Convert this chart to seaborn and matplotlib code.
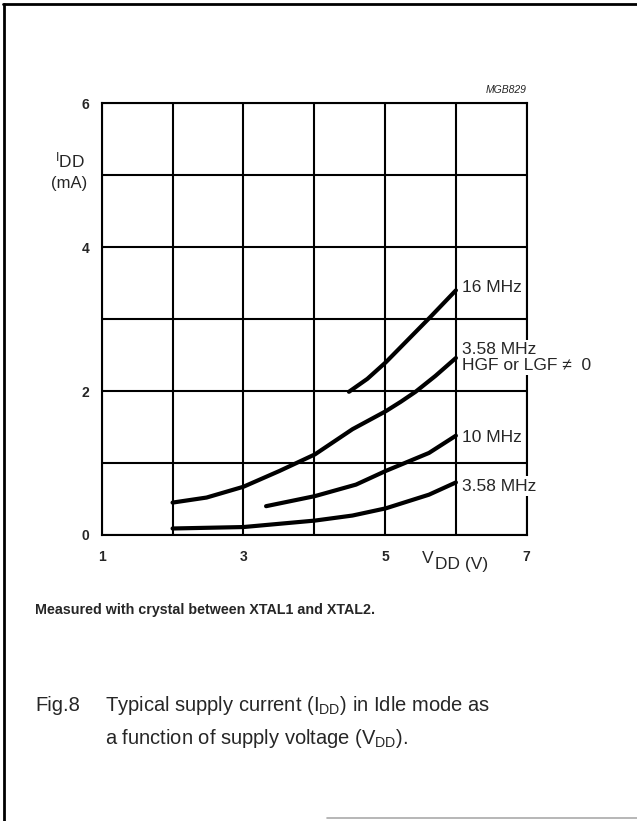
import matplotlib
matplotlib.use("Agg")
import matplotlib.pyplot as plt
import seaborn as sns
import pandas as pd
from matplotlib.lines import Line2D

# curves (V_DD in V, I_DD in mA)
v_16 = [4.49, 4.75, 5.01, 5.3, 5.64, 6.0]
i_16 = [1.99, 2.17, 2.40, 2.69, 3.03, 3.40]

v_358hgf = [2.0, 2.48, 3.0, 3.51, 4.01, 4.54, 5.01, 5.22, 5.43, 5.71, 6.0]
i_358hgf = [0.45, 0.52, 0.67, 0.89, 1.12, 1.47, 1.72, 1.85, 1.99, 2.21, 2.46]

v_10 = [3.32, 4.01, 4.59, 5.01, 5.62, 6.0]
i_10 = [0.40, 0.54, 0.70, 0.89, 1.14, 1.38]

v_358 = [2.0, 3.0, 4.01, 4.54, 5.01, 5.62, 6.0]
i_358 = [0.09, 0.11, 0.20, 0.27, 0.37, 0.56, 0.73]

curve_names = ["16 MHz", "3.58 MHz HGF", "10 MHz", "3.58 MHz"]
curve_labels = ["16 MHz", "3.58 MHz\nHGF or LGF \u2260  0", "10 MHz", "3.58 MHz"]
label_y = [3.44, 2.47, 1.36, 0.68]

x_ticks = [1, 3, 5, 7]
y_ticks = [0, 2, 4, 6]

sns.set_style("white")
plt.rcParams["font.family"] = ["Liberation Sans", "DejaVu Sans"]
plt.rcParams["mathtext.fontset"] = "custom"
plt.rcParams["mathtext.rm"] = "Liberation Sans"
plt.rcParams["mathtext.default"] = "regular"

frames = []
for name, v, i in zip(curve_names, [v_16, v_358hgf, v_10, v_358],
                      [i_16, i_358hgf, i_10, i_358]):
    frames.append(pd.DataFrame({"V": v, "I": i, "curve": name}))
df = pd.concat(frames, ignore_index=True)

fig = plt.figure(figsize=(6.37, 8.21), dpi=100)
ax = fig.add_axes([0.1597, 0.3484, 0.6672, 0.5258])

# grid
for gx in range(1, 8):
    ax.axvline(gx, color="black", lw=1.5, zorder=1)
for gy in range(0, 7):
    ax.axhline(gy, color="black", lw=1.5, zorder=1)

sns.lineplot(data=df, x="V", y="I", units="curve", estimator=None,
             color="black", lw=3, sort=False, ax=ax, zorder=2)

ax.set_xlim(1, 7)
ax.set_ylim(0, 6)
ax.set_xticks(x_ticks)
ax.set_yticks(y_ticks)
ax.set_xlabel("")
ax.set_ylabel("")
ax.tick_params(length=0, labelsize=10, pad=9)
ax.tick_params(axis="x", pad=11)
for lab in ax.get_xticklabels() + ax.get_yticklabels():
    lab.set_fontweight("bold")
for sp in ax.spines.values():
    sp.set_color("black")
    sp.set_linewidth(1.5)
    sp.set_zorder(1.5)

for txt, y in zip(curve_labels, label_y):
    ax.text(6.08, y, txt, fontsize=12.5, va="center",
            ha="left", linespacing=1.1, zorder=5,
            bbox=dict(facecolor="white", edgecolor="none", pad=1.5))

# axis captions, drawn like the scan: raised I / V, full-size DD
ax.text(0.76, 5.2, r"$^{I}$DD", fontsize=12.5, ha="right", va="center")
ax.text(0.79, 4.89, "(mA)", fontsize=12, ha="right", va="center")
ax.annotate("V", xy=(5.52, -0.33), fontsize=12.5, ha="left", va="center",
            annotation_clip=False)
ax.annotate("DD (V)", xy=(5.52, -0.33), xytext=(9.5, -4.2),
            textcoords="offset points", fontsize=12.5, ha="left", va="center",
            annotation_clip=False)
ax.text(7.0, 6.12, "MGB829", fontsize=7.5, fontstyle="italic",
        ha="right", va="bottom")

# page frame
fig.add_artist(Line2D([0.0055, 0.0055], [0.0, 0.995], color="black", lw=2))
fig.add_artist(Line2D([0.0047, 1.0], [0.995, 0.995], color="black", lw=2))
fig.add_artist(Line2D([0.513, 1.0], [0.0037, 0.0037], color="#aaaaaa", lw=1.2))

fig.text(0.055, 1 - 610 / 821, "Measured with crystal between XTAL1 and XTAL2.",
         fontsize=10.3, fontweight="bold", va="center")
fig.text(0.055, 1 - 705 / 821, "Fig.8", fontsize=14.5, va="center")
fig.text(0.165, 1 - 705 / 821,
         r"Typical supply current (I$_{DD}$) in Idle mode as",
         fontsize=14.5, va="center")
fig.text(0.165, 1 - 738 / 821,
         r"a function of supply voltage (V$_{DD}$).",
         fontsize=14.5, va="center")

fig.savefig("out.png", dpi=100)
